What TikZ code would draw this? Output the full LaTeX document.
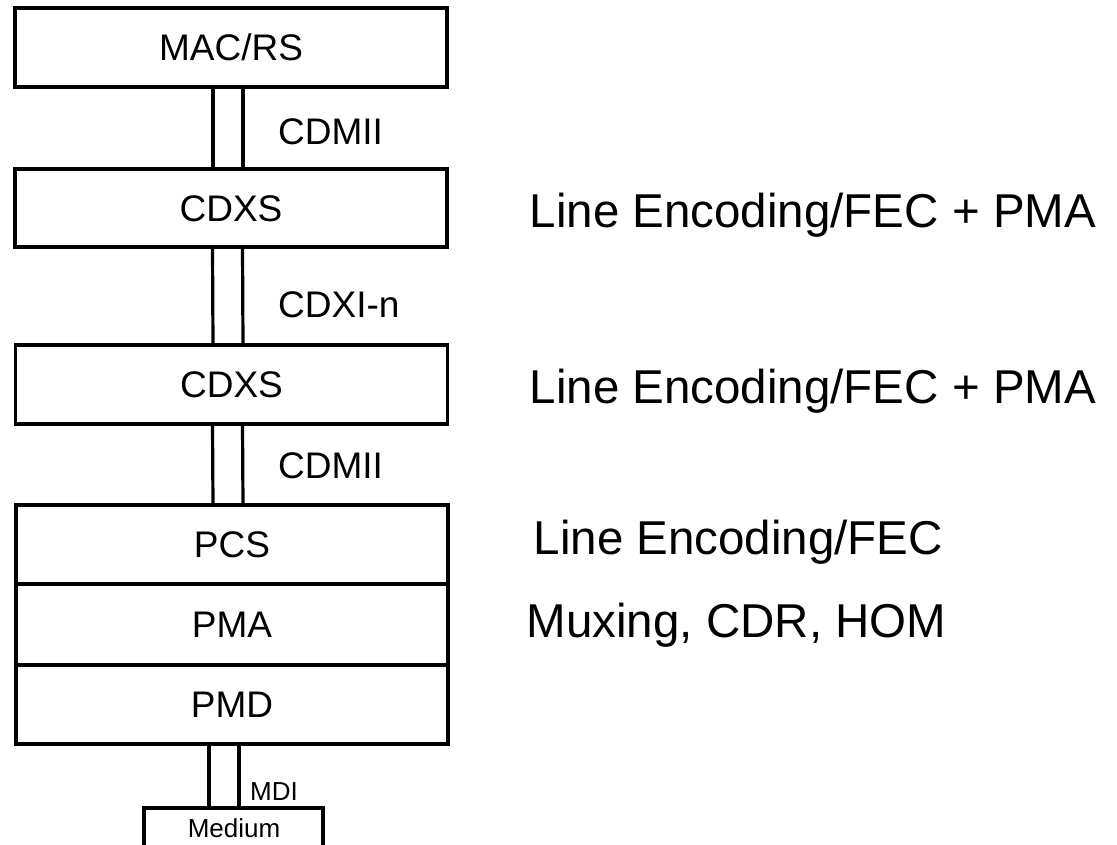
\documentclass[tikz,border=0pt]{standalone}
\usepackage{fontspec}
\setmainfont{Liberation Sans}
\begin{document}
\begin{tikzpicture}[x=1pt,y=-1pt,
  layer/.style={draw,line width=3.2pt,inner sep=0pt,outer sep=0pt,minimum width=432pt,
    font=\fontsize{37}{44}\selectfont,text height=26.5pt,text depth=0pt},
  side/.style={anchor=base west,inner sep=0pt,font=\fontsize{37}{44}\selectfont},
  func/.style={anchor=base west,inner sep=0pt,font=\fontsize{47.5}{56}\selectfont},
  small/.style={font=\fontsize{26}{30}\selectfont},
  link/.style={line width=3.2pt}]
\useasboundingbox (0,0) rectangle (1117,844);
\clip (0,0) rectangle (1117,844);
\node[layer,minimum height=79pt] (mac) at (231,47.5) {MAC/RS};
\node[layer,minimum height=78pt] (cdxsA) at (231,208) {CDXS};
\node[layer,minimum height=79pt] (cdxsB) at (231.5,384.5) {CDXS};
\node[layer,minimum height=79pt] (pcs) at (232,544.5) {PCS};
\node[layer,minimum height=81pt] (pma) at (232,624.5) {PMA};
\node[layer,minimum height=79pt] (pmd) at (232,704.5) {PMD};
\node[draw,line width=3.2pt,inner sep=0pt,outer sep=0pt,minimum width=179pt,minimum height=60pt] (medium) at (233.5,838) {};
\node[small,anchor=base,inner sep=0pt] (mediumlbl) at (234,837) {Medium};
% connectors (double lines)
\draw[link] ([xshift=-18pt]mac.south) -- ([xshift=-18pt]cdxsA.north);
\draw[link] ([xshift=12pt]mac.south) -- ([xshift=12pt]cdxsA.north);
\draw[link] ([xshift=-18.5pt]cdxsA.south) -- ([xshift=-18.5pt]cdxsB.north);
\draw[link] ([xshift=11.5pt]cdxsA.south) -- ([xshift=11.5pt]cdxsB.north);
\draw[link] ([xshift=-19pt]cdxsB.south) -- ([xshift=-19pt]pcs.north);
\draw[link] ([xshift=11pt]cdxsB.south) -- ([xshift=11pt]pcs.north);
\draw[link] ([xshift=-23pt]pmd.south) -- ([xshift=-24.5pt]medium.north);
\draw[link] ([xshift=7pt]pmd.south) -- ([xshift=5.5pt]medium.north);
% interface labels
\node[side] (cdmiiA) at (278,144) {CDMII};
\node[side] (cdxi) at (278,317) {CDXI-n};
\node[side] (cdmiiB) at (278,478) {CDMII};
\node[small,anchor=base west,inner sep=0pt] (mdi) at (250,800) {MDI};
% function labels
\node[func] (fA) at (529.5,227) {Line Encoding/FEC + PMA};
\node[func] (fB) at (529.5,403) {Line Encoding/FEC + PMA};
\node[func] (fC) at (533.5,554) {Line Encoding/FEC};
\node[func] (fD) at (526.5,637) {Muxing, CDR, HOM};
\end{tikzpicture}
\end{document}
